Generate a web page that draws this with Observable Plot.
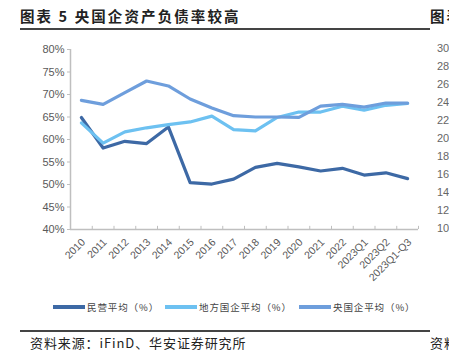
<!DOCTYPE html>
<html><head><meta charset="utf-8">
<script src="https://cdn.jsdelivr.net/npm/d3@7"></script>
<script src="https://cdn.jsdelivr.net/npm/@observablehq/plot@0.6"></script>
<style>
body{margin:0;background:#fff;}
#wrap{position:relative;width:449px;height:355px;overflow:hidden;font-family:"Liberation Sans",Arial,sans-serif;}
.abs{position:absolute;white-space:nowrap;}
.title{left:20px;top:5px;font:700 14.5px "Noto Sans CJK SC";color:#222;letter-spacing:2.1px;}
.rule{height:1.5px;background:#444;}
.leg{font:9.5px "Noto Sans CJK SC";color:#444;top:300px;letter-spacing:0.9px;}
.sw{height:4px;top:305px;}
.src{font:13px "Noto Sans CJK SC";color:#222;top:333px;letter-spacing:0.9px;}
.rax{font:11px "Liberation Sans";color:#666;left:437px;}
</style></head>
<body><div id="wrap">
<div class="abs title">图表 5 央国企资产负债率较高</div>
<div class="abs title" style="left:430px">图表</div>
<div class="abs rule" style="left:20px;top:28px;width:410px"></div>
<div id="chart" class="abs" style="left:0;top:0"></div>
<div id="legend"></div>
<div class="abs rule" style="left:20px;top:330px;width:410px"></div>
<div class="abs src" style="left:30px">资料来源：iFinD、华安证券研究所</div>
<div class="abs src" style="left:430px">资料</div>
<div id="raxis"></div>
</div>
<script>
const categories = ["2010","2011","2012","2013","2014","2015","2016","2017","2018","2019","2020","2021","2022","2023Q1","2023Q2","2023Q1-Q3"];
const privateAvg = [64.9,58.1,59.6,59.1,62.8,50.4,50.1,51.2,53.8,54.7,53.9,53.0,53.6,52.1,52.6,51.3];
const localSoeAvg = [63.7,59.2,61.7,62.6,63.3,63.9,65.2,62.2,61.9,64.9,66.1,66.1,67.4,66.5,67.6,68.0];
const centralSoeAvg = [68.7,67.8,70.4,73.0,71.9,69.0,67.0,65.3,65.0,65.0,64.9,67.4,67.8,67.2,68.1,68.1];
const seriesNames = ["民营平均（%）","地方国企平均（%）","央国企平均（%）"];
const seriesColors = ["#3D69A5","#6DC1F1","#6E9EDC"];
const yTicks = [40,45,50,55,60,65,70,75,80];
const rightAxisLabels = ["30","28","26","24","22","20","18","16","14","12","10"];

const allSeries = [privateAvg, localSoeAvg, centralSoeAvg];
const rows = [];
allSeries.forEach((vals, s) => vals.forEach((v, i) => rows.push({series: seriesNames[s], x: i + 0.5, cat: categories[i], y: v})));
const labelRows = categories.map((c, i) => ({x: i + 0.5, y: 40, cat: c}));
const bounds = d3.range(1, categories.length + 1).map(b => ({x: b, y1: 40, y2: 40.7}));

const axisColor = "#bfbfbf";
const plot = Plot.plot({
  width: 449, height: 290,
  marginLeft: 70, marginRight: 31, marginTop: 49, marginBottom: 61,
  style: {fontFamily: "Liberation Sans, Arial, sans-serif", fontSize: "11px", color: "#595959", background: "transparent"},
  x: {type: "linear", domain: [0, categories.length], axis: null},
  y: {type: "linear", domain: [40, 80], axis: null},
  color: {domain: seriesNames, range: seriesColors},
  marks: [
    Plot.ruleY([40], {stroke: axisColor, strokeWidth: 1.5}),
    Plot.ruleX([0], {stroke: axisColor, strokeWidth: 1.5}),
    Plot.ruleX(bounds, {x: "x", y1: "y1", y2: "y2", stroke: axisColor, strokeWidth: 1}),
    Plot.axisY(yTicks, {tickFormat: d => d + "%", tickSize: 3, stroke: axisColor, fill: "#595959", fontSize: 11, tickPadding: 3, label: null}),
    Plot.line(rows, {x: "x", y: "y", z: "series", stroke: "series", strokeWidth: 3.2, curve: "linear"}),
    Plot.text(labelRows, {x: "x", y: "y", text: "cat", rotate: -45, textAnchor: "end", dy: 11, dx: 2, fill: "#595959", fontSize: 10.5})
  ]
});
document.getElementById("chart").appendChild(plot);

// legend
const legend = document.getElementById("legend");
const legX = [53, 165, 299];
seriesNames.forEach((n, i) => {
  const sw = document.createElement("div");
  sw.className = "abs sw"; sw.style.left = legX[i] + "px"; sw.style.width = "32px"; sw.style.background = seriesColors[i];
  legend.appendChild(sw);
  const t = document.createElement("div");
  t.className = "abs leg"; t.style.left = (legX[i] + 34) + "px"; t.textContent = n;
  legend.appendChild(t);
});
// neighbouring chart's cut-off axis
const rax = document.getElementById("raxis");
rightAxisLabels.forEach((l, i) => {
  const t = document.createElement("div");
  t.className = "abs rax"; t.style.top = (42 + i * 18) + "px"; t.textContent = l;
  rax.appendChild(t);
});
</script>
</body></html>
